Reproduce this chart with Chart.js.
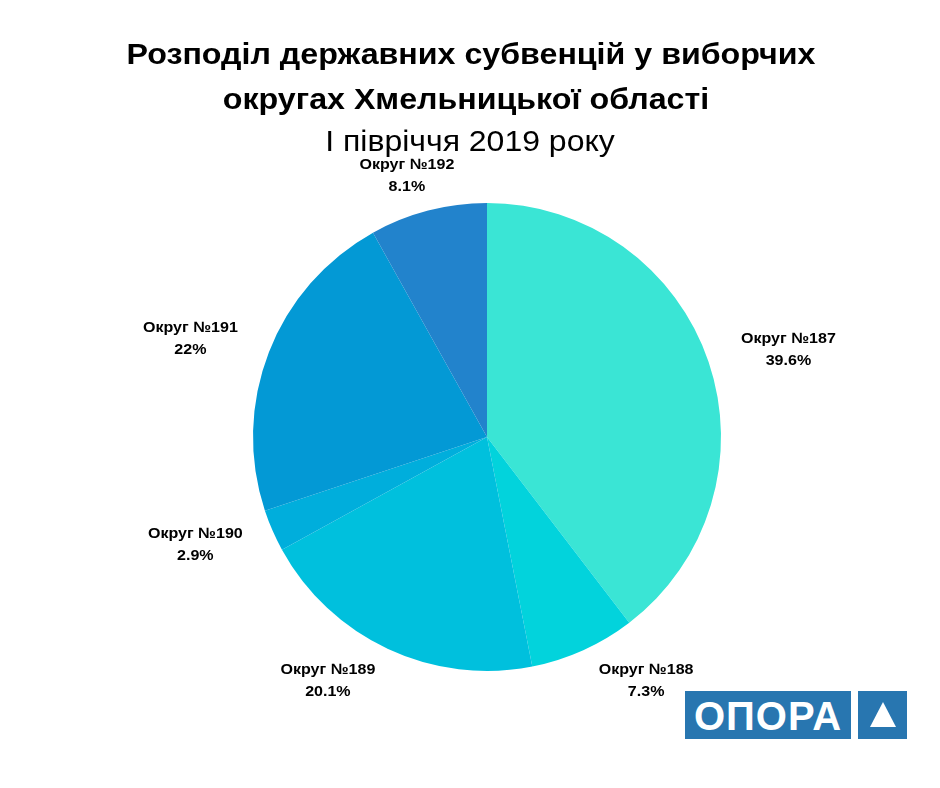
<!DOCTYPE html>
<html>
<head>
<meta charset="utf-8">
<script src="https://cdn.jsdelivr.net/npm/chart.js@4"></script>
<style>
  html,body{margin:0;padding:0;background:#fff;}
  #wrap{position:relative;width:940px;height:788px;}
  canvas{position:absolute;left:0;top:0;}
  .logo{position:absolute;top:691px;height:48px;background:#2876b0;color:#fff;
        font-family:"Liberation Sans",Arial,sans-serif;font-weight:bold;}
  #logo1{left:685px;width:166px;font-size:40px;line-height:50px;text-align:center;letter-spacing:1px;}
  #logo2{left:858px;width:49px;}
  #tri{position:absolute;left:12px;top:11px;width:0;height:0;border-left:13px solid transparent;border-right:13px solid transparent;border-bottom:25px solid #fff;}
</style>
</head>
<body>
<div id="wrap">
  <canvas id="c" width="940" height="788"></canvas>
  <div class="logo" id="logo1">ОПОРА</div>
  <div class="logo" id="logo2"><div id="tri"></div></div>
</div>
<script>
const titleLines = ["Розподіл державних субвенцій у виборчих", "округах Хмельницької області"];
const subtitle = "І півріччя 2019 року";
const categories = ["Округ №187", "Округ №188", "Округ №189", "Округ №190", "Округ №191", "Округ №192"];
const values = [39.6, 7.3, 20.1, 2.9, 22, 8.1];
const valueLabels = ["39.6%", "7.3%", "20.1%", "2.9%", "22%", "8.1%"];
const colors = ["#3ae5d5", "#02d3dc", "#00c0dd", "#00aedc", "#0399d5", "#2283cc"];

const FONT = '"Liberation Sans", Arial, sans-serif';

function wideText(ctx, text, x, y, sx) {
  ctx.save();
  ctx.translate(x, y);
  ctx.scale(sx, 1);
  ctx.fillText(text, 0, 0);
  ctx.restore();
}

const titlePlugin = {
  id: 'titles',
  afterDraw(chart) {
    const ctx = chart.ctx;
    ctx.save();
    ctx.fillStyle = '#000';
    ctx.textAlign = 'center';
    ctx.textBaseline = 'middle';
    ctx.font = 'bold 29px ' + FONT;
    wideText(ctx, titleLines[0], 471, 56, 1.11);
    wideText(ctx, titleLines[1], 466, 101, 1.11);
    ctx.font = '30px ' + FONT;
    wideText(ctx, subtitle, 470, 143, 1.066);
    ctx.restore();
  }
};

const labelPlugin = {
  id: 'sliceLabels',
  afterDatasetsDraw(chart) {
    const ctx = chart.ctx;
    const meta = chart.getDatasetMeta(0);
    ctx.save();
    ctx.fillStyle = '#000';
    ctx.textAlign = 'center';
    ctx.textBaseline = 'middle';
    ctx.font = 'bold 15px ' + FONT;
    meta.data.forEach((arc, i) => {
      const p = arc.getProps(['x','y','startAngle','endAngle','outerRadius'], true);
      let a = (p.startAngle + p.endAngle) / 2;
      let ry = 1.155;
      // keep bottom labels away from the vertical axis
      const minOff = 30 * Math.PI / 180;
      let d = a - Math.PI / 2;
      while (d > Math.PI) d -= 2 * Math.PI;
      while (d < -Math.PI) d += 2 * Math.PI;
      if (Math.abs(d) < minOff) {
        a = Math.PI / 2 + (d < 0 ? -minOff : minOff);
        ry = 1.204;
      }
      const cx = p.x + Math.cos(a) * p.outerRadius * 1.36;
      const cy = p.y + Math.sin(a) * p.outerRadius * ry;
      wideText(ctx, categories[i], cx, cy - 11, 1.07);
      wideText(ctx, valueLabels[i], cx, cy + 11, 1.07);
    });
    ctx.restore();
  }
};

new Chart(document.getElementById('c'), {
  type: 'pie',
  data: {
    labels: categories,
    datasets: [{
      data: values,
      backgroundColor: colors,
      borderWidth: 0
    }]
  },
  options: {
    responsive: false,
    animation: false,
    layout: { padding: { top: 203, bottom: 117, left: 253, right: 219 } },
    plugins: {
      legend: { display: false },
      tooltip: { enabled: false },
      title: { display: false }
    }
  },
  plugins: [titlePlugin, labelPlugin]
});
</script>
</body>
</html>
